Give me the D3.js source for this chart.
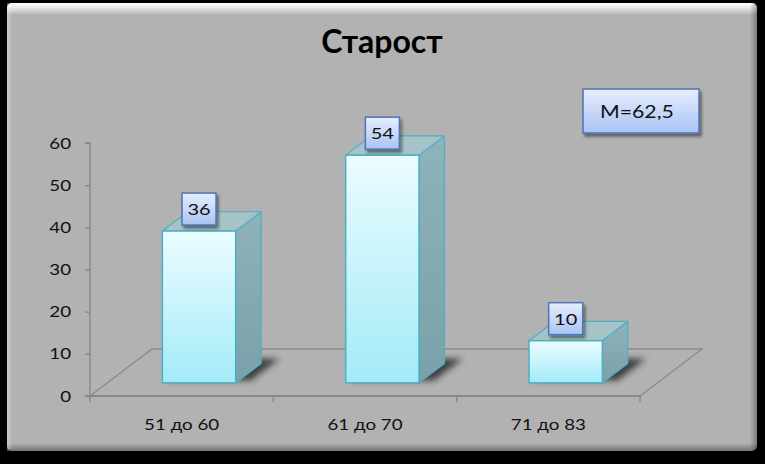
<!DOCTYPE html>
<html>
<head>
<meta charset="utf-8">
<script src="https://cdn.jsdelivr.net/npm/d3@7"></script>
<style>
  html, body { margin: 0; padding: 0; background: #000; }
  svg { display: block; }
  text { font-family: Lato, 'Open Sans', sans-serif; }
</style>
</head>
<body>
<svg id="chart" width="765" height="464"></svg>
<script>
const title = 'Старост'
const categories = ['51 до 60', '61 до 70', '71 до 83']
const values = [36, 54, 10]
const yTicks = [0, 10, 20, 30, 40, 50, 60]
const meanLabel = 'M=62,5'

const width = 765
const height = 464
const plot = { left: 90, right: 640, top: 143, bottom: 396 }
const depth = { x: 62, y: -47 }   // floor depth vector
const barFront = 0.28, barBack = 0.69
const stretch = 1.25              // reference text is stretched sideways

const svg = d3.select('#chart')
const defs = svg.append('defs')

function linGrad(id, x2, y2, stops) {
	const g = defs.append('linearGradient').attr('id', id)
		.attr('x1', 0).attr('y1', 0).attr('x2', x2).attr('y2', y2)
	stops.forEach(s => g.append('stop').attr('offset', s[0]).attr('stop-color', s[1]).attr('stop-opacity', s[2] == null ? 1 : s[2]))
}
linGrad('front', 0, 1, [[0, '#ebfcff'], [1, '#a3ebf8']])
linGrad('side', 0, 1, [[0, '#8fb3ba'], [1, '#7aa0a9']])
linGrad('label', 0, 1, [[0, '#e6eeff'], [1, '#a9c3f3']])
linGrad('topHi', 0, 1, [[0, '#ffffff', 1], [0.4, '#ffffff', 0.7], [1, '#ffffff', 0]])
linGrad('botSh', 0, 1, [[0, '#000000', 0], [1, '#000000', 0.35]])
linGrad('leftHi', 1, 0, [[0, '#ffffff', 0.35], [1, '#ffffff', 0]])
linGrad('rightSh', 1, 0, [[0, '#000000', 0], [1, '#000000', 0.3]])

defs.append('filter').attr('id', 'blur').attr('x', '-30%').attr('y', '-30%').attr('width', '160%').attr('height', '160%')
	.append('feGaussianBlur').attr('stdDeviation', 3)
const ds = defs.append('filter').attr('id', 'drop').attr('x', '-30%').attr('y', '-30%').attr('width', '170%').attr('height', '170%')
ds.append('feDropShadow').attr('dx', 2).attr('dy', 3).attr('stdDeviation', 1.5).attr('flood-color', '#000').attr('flood-opacity', 0.45)

// panel
const panel = { x: 7, y: 3, w: 750, h: 448 }
svg.append('rect').attr('x', panel.x).attr('y', panel.y).attr('width', panel.w).attr('height', panel.h)
	.attr('rx', 5).attr('fill', '#b2b2b2')
svg.append('rect').attr('x', panel.x).attr('y', panel.y).attr('width', panel.w).attr('height', 12)
	.attr('rx', 5).attr('fill', 'url(#topHi)')
svg.append('rect').attr('x', panel.x).attr('y', panel.y + panel.h - 8).attr('width', panel.w).attr('height', 8)
	.attr('fill', 'url(#botSh)')
svg.append('rect').attr('x', panel.x).attr('y', panel.y).attr('width', 5).attr('height', panel.h)
	.attr('fill', 'url(#leftHi)')
svg.append('rect').attr('x', panel.x + panel.w - 7).attr('y', panel.y).attr('width', 7).attr('height', panel.h)
	.attr('fill', 'url(#rightSh)')

function stretchedText(sel, x, y) {
	return sel.attr('transform', `translate(${x},${y}) scale(${stretch},1)`)
}

svg.append('text').attr('x', 382).attr('y', 53)
	.attr('text-anchor', 'middle').attr('font-size', 32).attr('font-weight', 'bold')
	.attr('fill', '#000').text(title)

// scales
const x = d3.scaleBand().domain(categories).range([plot.left, plot.right])
	.paddingInner(0.6).paddingOuter(0.3)
const y = d3.scaleLinear().domain([0, 60]).range([plot.bottom, plot.top])

const proj = (px, py, t) => [px + depth.x * t, py + depth.y * t]

// floor
const y0 = y(0)
const floorPts = [proj(plot.left, y0, 0), proj(plot.right, y0, 0), proj(plot.right, y0, 1), proj(plot.left, y0, 1)]
svg.append('polygon').attr('points', floorPts.map(p => p.join(',')).join(' '))
	.attr('fill', 'none').attr('stroke', '#8a8a8a').attr('stroke-width', 1.3)

// y axis
const yAxis = svg.append('g').attr('transform', `translate(${plot.left},0)`)
	.call(d3.axisLeft(y).tickValues(yTicks).tickSize(5).tickPadding(0).tickFormat(d3.format('d')))
yAxis.selectAll('path, line').attr('stroke', '#868686').attr('stroke-width', 1.3)
yAxis.select('.domain').attr('d', `M-5,${y(60)}H0V${y(0)}H-5`)
yAxis.selectAll('text').remove()
yAxis.selectAll('.tick').append('text')
	.attr('fill', '#111').attr('font-size', 15).attr('text-anchor', 'end')
	.attr('transform', `translate(-19,5) scale(${stretch},1)`)
	.text(d => d)

// x axis: boundary ticks and centred labels
const xAxis = svg.append('g').attr('transform', `translate(0,${y0})`)
xAxis.append('line').attr('x1', plot.left).attr('x2', plot.right)
	.attr('stroke', '#868686').attr('stroke-width', 1.3)
d3.range(categories.length + 1).forEach(i => {
	const bx = plot.left + i * x.step()
	xAxis.append('line').attr('x1', bx).attr('x2', bx).attr('y1', 0).attr('y2', 6)
		.attr('stroke', '#868686').attr('stroke-width', 1.3)
})
categories.forEach(c => {
	stretchedText(xAxis.append('text'), x(c) + x.bandwidth() / 2, 34)
		.attr('text-anchor', 'middle').attr('font-size', 15).attr('fill', '#111').text(c)
})

// bars
const bars = svg.append('g')
const poly = pts => pts.map(p => p.join(',')).join(' ')
categories.forEach((c, i) => {
	const x0 = x(c), x1 = x0 + x.bandwidth()
	const yt = y(values[i])
	const g = bars.append('g')

	// shadow on floor
	g.append('polygon')
		.attr('points', poly([proj(x0 + 2, y0, barFront + 0.05), proj(x1 + 12, y0, barFront + 0.05), proj(x1 + 12, y0, barBack + 0.1), proj(x0 + 2, y0, barBack + 0.1)]))
		.attr('fill', '#2a2a2a').attr('opacity', 0.85).attr('filter', 'url(#blur)')

	g.append('polygon')
		.attr('points', poly([proj(x1, yt, barFront), proj(x1, yt, barBack), proj(x1, y0, barBack), proj(x1, y0, barFront)]))
		.attr('fill', 'url(#side)').attr('stroke', '#4bb0c4').attr('stroke-width', 1.2).attr('stroke-linejoin', 'round')
	g.append('polygon')
		.attr('points', poly([proj(x0, yt, barFront), proj(x0, yt, barBack), proj(x1, yt, barBack), proj(x1, yt, barFront)]))
		.attr('fill', '#a6c3c7').attr('stroke', '#4bb0c4').attr('stroke-width', 1.2).attr('stroke-linejoin', 'round')
	const f = proj(x0, yt, barFront)
	g.append('rect').attr('x', f[0]).attr('y', f[1])
		.attr('width', x.bandwidth()).attr('height', y0 - yt)
		.attr('fill', 'url(#front)').attr('stroke', '#4bb0c4').attr('stroke-width', 1.5)
})

// value labels
const labels = svg.append('g')
categories.forEach((c, i) => {
	const cx = x(c) + x.bandwidth() / 2 + depth.x * barFront
	const top = y(values[i]) + depth.y * barFront
	const bw = 34, bh = 32
	labels.append('rect').attr('x', cx - bw / 2).attr('y', top - 6 - bh)
		.attr('width', bw).attr('height', bh)
		.attr('fill', 'url(#label)').attr('stroke', '#4f74b3').attr('stroke-width', 1.5)
		.attr('filter', 'url(#drop)')
	stretchedText(labels.append('text'), cx, top - 6 - bh / 2 + 6)
		.attr('text-anchor', 'middle').attr('font-size', 16).attr('fill', '#111').text(values[i])
})

// mean box
svg.append('rect').attr('x', 583).attr('y', 89).attr('width', 116).attr('height', 44)
	.attr('fill', 'url(#label)').attr('stroke', '#4f74b3').attr('stroke-width', 1.5)
	.attr('filter', 'url(#drop)')
stretchedText(svg.append('text'), 600, 118)
	.attr('font-size', 17).attr('fill', '#111').text(meanLabel)
</script>
</body>
</html>
